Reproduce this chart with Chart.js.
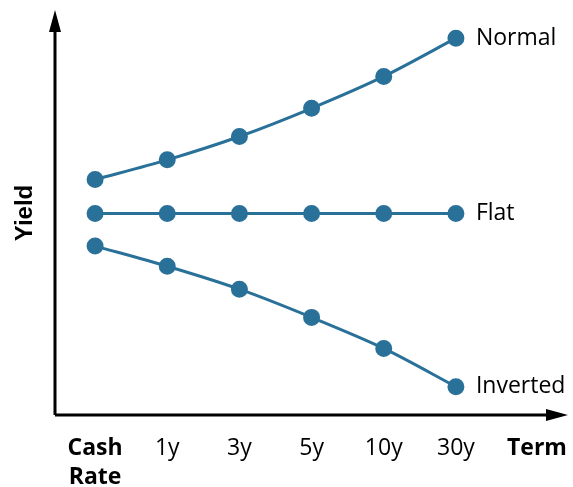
<!DOCTYPE html>
<html>
<head>
<meta charset="utf-8">
<script src="https://cdn.jsdelivr.net/npm/chart.js@4"></script>
<style>
  html, body { margin: 0; padding: 0; background: #fff; }
  #wrap { width: 573px; height: 487px; }
</style>
</head>
<body>
<div id="wrap"><canvas id="chart"></canvas></div>
<script>
const terms = [["Cash", "Rate"], "1y", "3y", "5y", "10y", "30y"];
const normal = [5.84, 6.33, 6.91, 7.61, 8.40, 9.35];
const flat = [5.0, 5.0, 5.0, 5.0, 5.0, 5.0];
const inverted = [4.19, 3.69, 3.12, 2.42, 1.65, 0.70];
const curveNames = ["Normal", "Flat", "Inverted"];

const blue = "#2a7199";
const font = "'Open Sans', 'Noto Sans', sans-serif";

// axes with arrows plus the curve names, yield and term labels
const decor = {
  id: "decor",
  afterDraw(chart) {
    const { ctx, chartArea } = chart;
    const ax = chartArea.left - 4;
    const ay = chartArea.bottom;
    ctx.save();
    ctx.strokeStyle = "#000";
    ctx.fillStyle = "#000";
    ctx.lineWidth = 3;
    ctx.beginPath();
    ctx.moveTo(ax, ay);
    ctx.lineTo(ax, 24);
    ctx.moveTo(ax, ay);
    ctx.lineTo(556, ay);
    ctx.stroke();
    ctx.beginPath();
    ctx.moveTo(ax, 10);
    ctx.lineTo(ax - 6, 32);
    ctx.lineTo(ax + 6, 32);
    ctx.closePath();
    ctx.fill();
    ctx.beginPath();
    ctx.moveTo(568, ay);
    ctx.lineTo(546, ay - 6);
    ctx.lineTo(546, ay + 6);
    ctx.closePath();
    ctx.fill();

    ctx.font = "23px " + font;
    ctx.textBaseline = "middle";
    ctx.textAlign = "left";
    chart.data.datasets.forEach((ds, i) => {
      const pts = chart.getDatasetMeta(i).data;
      const p = pts[pts.length - 1];
      ctx.fillText(curveNames[i], p.x + 20, p.y);
    });

    ctx.font = "bold 23px " + font;
    ctx.fillText("Term", 507, ay + 34);

    ctx.translate(25, 213);
    ctx.rotate(-Math.PI / 2);
    ctx.textAlign = "center";
    ctx.font = "bold 24px 'Liberation Sans', Arial, sans-serif";
    ctx.fillText("Yield", 0, 0);
    ctx.restore();
  }
};

const mk = (label, data) => ({
  label,
  data,
  borderColor: blue,
  backgroundColor: blue,
  borderWidth: 3,
  pointRadius: 7,
  pointHoverRadius: 7,
  tension: 0.3,
  clip: false
});

new Chart(document.getElementById("chart"), {
  type: "line",
  data: {
    labels: terms,
    datasets: [mk("Normal", normal), mk("Flat", flat), mk("Inverted", inverted)]
  },
  options: {
    responsive: true,
    maintainAspectRatio: false,
    animation: false,
    layout: { padding: { left: 59, right: 81, top: 12, bottom: -24 } },
    plugins: { legend: { display: false }, tooltip: { enabled: false } },
    scales: {
      x: {
        offset: true,
        grid: { display: false, drawTicks: false },
        border: { display: false },
        ticks: {
          color: "#000",
          padding: 20,
          maxRotation: 0,
          autoSkip: false,
          font: (c) => ({ family: font, size: 23, weight: c.index === 0 ? "bold" : "normal", lineHeight: 1.22 })
        }
      },
      y: {
        display: false,
        min: 0,
        max: 10
      }
    }
  },
  plugins: [decor]
});
</script>
</body>
</html>
